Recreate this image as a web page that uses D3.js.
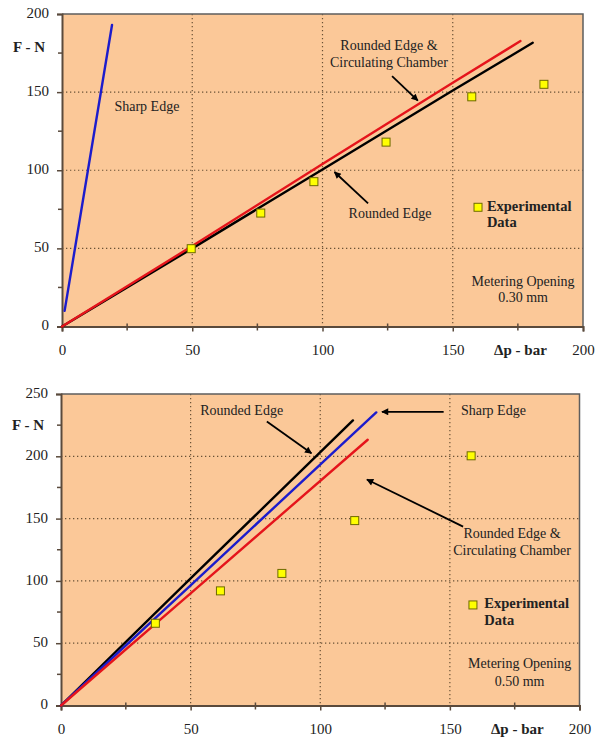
<!DOCTYPE html>
<html>
<head>
<meta charset="utf-8">
<script src="https://cdn.jsdelivr.net/npm/d3@7/dist/d3.min.js"></script>
<style>
  html, body { margin: 0; padding: 0; background: #fff; }
  svg { display: block; }
  text { font-family: "Liberation Serif", "Times New Roman", serif; fill: #222; }
</style>
</head>
<body>
<svg id="chart" width="597" height="740"></svg>
<script>
// ---------------- DATA ----------------
const xTicks = [0, 50, 100, 150, 200];
const xMinorTicks = [25, 75, 125, 175];
const xLabel = "Δp - bar";
const yLabel = "F - N";

// Top chart (metering opening 0.30 mm)
const topYTicks = [0, 50, 100, 150, 200];
const topYMinorTicks = [25, 75, 125, 175];
const topSharpEdge = [[1, 10], [19.2, 193]];
const topRoundedEdge = [[0, 0], [50, 50], [100, 100.5], [150, 151], [180.7, 181.6]];
const topRoundedCirc = [[0, 0], [50, 51.5], [100, 104], [150, 156], [176, 182.7]];
const topExperimental = [[49.6, 49.8], [76.3, 72.6], [96.7, 92.7], [124.4, 118], [157.3, 147], [185, 155]];

// Bottom chart (metering opening 0.50 mm)
const botYTicks = [0, 50, 100, 150, 200, 250];
const botYMinorTicks = [25, 75, 125, 175, 225];
const botRoundedEdge = [[0, 0], [50, 102], [112.6, 228.8]];
const botSharpEdge = [[0, 0], [50, 96.5], [121.6, 235.2]];
const botRoundedCirc = [[0, 0], [50, 90], [118.3, 213.3]];
const botExperimental = [[36.4, 66], [61.5, 92], [85.2, 106], [113.3, 148.4], [158.2, 200.4]];

// ---------------- STYLE ----------------
const COLORS = { bg: "#FBC898", grid: "#6a5236", frame: "#5a4a3c", black: "#000000", blue: "#1c1ccc", red: "#e5141b", marker: "#ffff00", markerStroke: "#6e6a00" };

const svg = d3.select("#chart");

svg.append("defs").append("marker")
  .attr("id", "arrow").attr("viewBox", "0 0 10 10")
  .attr("refX", 9).attr("refY", 5)
  .attr("markerWidth", 9).attr("markerHeight", 7)
  .attr("markerUnits", "userSpaceOnUse")
  .attr("orient", "auto")
  .append("path").attr("d", "M0,0 L10,5 L0,10 Z").attr("fill", "#000");

function drawChart(cfg) {
  const g = svg.append("g");
  const x = d3.scaleLinear().domain([0, 200]).range([cfg.left, cfg.right]);
  const y = d3.scaleLinear().domain([0, cfg.yMax]).range([cfg.bottom, cfg.top]);

  // background
  g.append("rect").attr("x", cfg.left).attr("y", cfg.top)
    .attr("width", cfg.right - cfg.left).attr("height", cfg.bottom - cfg.top)
    .attr("fill", COLORS.bg);

  // grid
  const gx = xTicks.slice(1, -1), gy = cfg.yTicks.slice(1, -1);
  g.selectAll(".gx").data(gx).join("line")
    .attr("x1", d => x(d)).attr("x2", d => x(d)).attr("y1", cfg.top).attr("y2", cfg.bottom)
    .attr("stroke", COLORS.grid).attr("stroke-width", 1.2).attr("stroke-dasharray", "1.3,2.7");
  g.selectAll(".gy").data(gy).join("line")
    .attr("y1", d => y(d)).attr("y2", d => y(d)).attr("x1", cfg.left).attr("x2", cfg.right)
    .attr("stroke", COLORS.grid).attr("stroke-width", 1.2).attr("stroke-dasharray", "1.3,2.7");

  // frame (top & right)
  g.append("path")
    .attr("d", `M${cfg.left},${cfg.top} H${cfg.right} V${cfg.bottom}`)
    .attr("fill", "none").attr("stroke", "#5e5e5e").attr("stroke-width", 1.5);

  // axes
  const xAxis = d3.axisBottom(x).tickValues(xTicks).tickSize(5);
  const xAx = g.append("g").attr("transform", `translate(0,${cfg.bottom})`).call(xAxis);
  xAx.select(".domain").attr("stroke", COLORS.frame).attr("stroke-width", 2);
  xAx.selectAll(".tick line").attr("stroke", COLORS.frame).attr("stroke-width", 1.5);
  xAx.selectAll(".tick text").attr("font-size", 15).attr("dy", null).attr("y", 25)
    .attr("dominant-baseline", "middle").attr("font-family", "Liberation Serif").attr("fill", "#222");
  g.append("g").attr("transform", `translate(0,${cfg.bottom})`)
    .selectAll("line").data(xMinorTicks).join("line")
    .attr("x1", d => x(d)).attr("x2", d => x(d)).attr("y1", -3).attr("y2", 4)
    .attr("stroke", COLORS.frame).attr("stroke-width", 1.5);

  const yAxis = d3.axisLeft(y).tickValues(cfg.yTicks).tickSize(5);
  const yAx = g.append("g").attr("transform", `translate(${cfg.left},0)`).call(yAxis);
  yAx.select(".domain").attr("stroke", COLORS.frame).attr("stroke-width", 2);
  yAx.selectAll(".tick line").attr("stroke", COLORS.frame).attr("stroke-width", 1.5);
  yAx.selectAll(".tick text").attr("font-size", 15).attr("x", -13).attr("dy", null)
    .attr("dominant-baseline", "middle").attr("font-family", "Liberation Serif").attr("fill", "#222");
  g.append("g").attr("transform", `translate(${cfg.left},0)`)
    .selectAll("line").data(cfg.yMinorTicks).join("line")
    .attr("y1", d => y(d)).attr("y2", d => y(d)).attr("x1", -4).attr("x2", 0)
    .attr("stroke", COLORS.frame).attr("stroke-width", 1.5);

  // axis titles
  g.append("text").text(xLabel).attr("x", x(176)).attr("y", cfg.bottom + 25)
    .attr("text-anchor", "middle").attr("dominant-baseline", "middle")
    .attr("font-size", 15).attr("font-weight", "bold");
  g.append("text").text(yLabel).attr("x", cfg.left - 33).attr("y", y(cfg.yLabelAt))
    .attr("text-anchor", "middle").attr("dominant-baseline", "middle")
    .attr("font-size", 15).attr("font-weight", "bold");

  // lines
  const line = d3.line().x(d => x(d[0])).y(d => y(d[1]));
  cfg.series.forEach(s => {
    g.append("path").datum(s.data).attr("d", line)
      .attr("fill", "none").attr("stroke", s.color).attr("stroke-width", 2.4)
      .attr("stroke-linecap", "round");
  });

  // experimental markers
  const ms = 8;
  g.selectAll(".exp").data(cfg.experimental).join("rect")
    .attr("x", d => x(d[0]) - ms / 2).attr("y", d => y(d[1]) - ms / 2)
    .attr("width", ms).attr("height", ms)
    .attr("fill", COLORS.marker).attr("stroke", COLORS.markerStroke).attr("stroke-width", 1);

  // annotations
  cfg.labels.forEach(l => {
    l.lines.forEach((t, i) => {
      g.append("text").text(t)
        .attr("x", x(l.x)).attr("y", y(l.y[i]))
        .attr("text-anchor", l.anchor || "middle").attr("dominant-baseline", "middle")
        .attr("font-size", l.size || 14).attr("font-weight", l.bold ? "bold" : "normal");
    });
  });
  cfg.arrows.forEach(a => {
    g.append("line")
      .attr("x1", x(a[0][0])).attr("y1", y(a[0][1]))
      .attr("x2", x(a[1][0])).attr("y2", y(a[1][1]))
      .attr("stroke", "#000").attr("stroke-width", 1.8).attr("marker-end", "url(#arrow)");
  });

  // legend
  g.append("rect").attr("x", x(cfg.legend.sq[0]) - 4).attr("y", y(cfg.legend.sq[1]) - 4)
    .attr("width", 8).attr("height", 8)
    .attr("fill", COLORS.marker).attr("stroke", COLORS.markerStroke).attr("stroke-width", 1);
  ["Experimental", "Data"].forEach((t, i) => {
    g.append("text").text(t).attr("x", x(cfg.legend.tx)).attr("y", y(cfg.legend.ty[i]))
      .attr("dominant-baseline", "middle").attr("font-size", 14.5).attr("font-weight", "bold");
  });
}

drawChart({
  left: 62, right: 583, top: 14, bottom: 326.5, yMax: 200,
  yTicks: topYTicks, yMinorTicks: topYMinorTicks, yLabelAt: 178,
  series: [
    { data: topSharpEdge, color: COLORS.blue },
    { data: topRoundedEdge, color: COLORS.black },
    { data: topRoundedCirc, color: COLORS.red }
  ],
  experimental: topExperimental,
  labels: [
    { lines: ["Sharp Edge"], x: 32.6, y: [139.7] },
    { lines: ["Rounded Edge &", "Circulating Chamber"], x: 125.5, y: [178.8, 168.4] },
    { lines: ["Rounded Edge"], x: 125.9, y: [71.2] },
    { lines: ["Metering Opening", "0.30 mm"], x: 177, y: [28.2, 17.9] }
  ],
  arrows: [
    [[126.7, 160.3], [136.6, 144.6]],
    [[117.5, 78.8], [104.6, 98.9]]
  ],
  legend: { sq: [159.7, 76.3], tx: 163.1, ty: [76.3, 66] }
});

drawChart({
  left: 61, right: 579.5, top: 394, bottom: 705.5, yMax: 250,
  yTicks: botYTicks, yMinorTicks: botYMinorTicks, yLabelAt: 223.5,
  series: [
    { data: botRoundedEdge, color: COLORS.black },
    { data: botSharpEdge, color: COLORS.blue },
    { data: botRoundedCirc, color: COLORS.red }
  ],
  experimental: botExperimental,
  labels: [
    { lines: ["Rounded Edge"], x: 69.7, y: [236] },
    { lines: ["Sharp Edge"], x: 166.8, y: [236] },
    { lines: ["Rounded Edge &", "Circulating Chamber"], x: 174, y: [137, 123.5] },
    { lines: ["Metering Opening", "0.50 mm"], x: 176.9, y: [32.5, 18.3] }
  ],
  arrows: [
    [[79.4, 228], [96.6, 202.4]],
    [[147.6, 235.7], [123.8, 235.7]],
    [[155.1, 143.6], [118.0, 181.4]]
  ],
  legend: { sq: [158.9, 80.7], tx: 163.3, ty: [80.7, 67.3] }
});
</script>
</body>
</html>
